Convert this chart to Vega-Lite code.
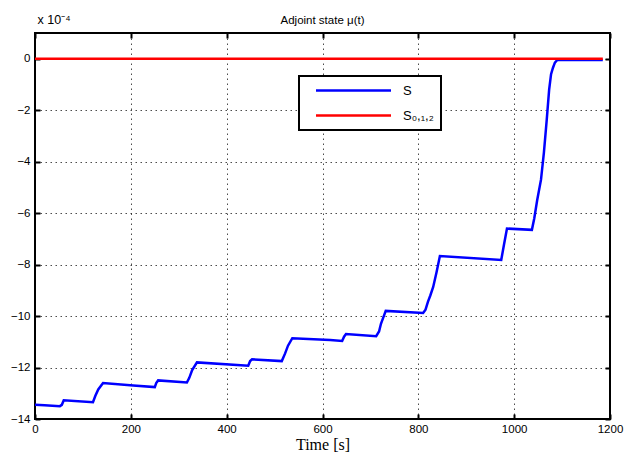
{
  "$schema": "https://vega.github.io/schema/vega-lite/v6.json",
  "autosize": {"type": "none"},
  "padding": {"left": 35, "top": 33, "right": 22, "bottom": 37},
  "width": 575,
  "height": 386,
  "background": "white",
  "title": {"text": "Adjoint state μ(t)", "font": "Liberation Sans", "fontSize": 11.5, "fontWeight": "normal", "color": "black", "offset": -13, "anchor": "middle"},
  "config": {
    "view": {"stroke": "black", "strokeWidth": 2},
    "axis": {"labelFont": "Liberation Sans", "labelFontSize": 11.5, "labelColor": "black", "domain": false, "tickColor": "black", "tickWidth": 2, "labelFlush": false}
  },
  "data": {"values": [
    {"t": 0, "v": -13.45, "s": "S"},
    {"t": 20, "v": -13.47, "s": "S"},
    {"t": 52, "v": -13.5, "s": "S"},
    {"t": 56, "v": -13.45, "s": "S"},
    {"t": 60, "v": -13.27, "s": "S"},
    {"t": 121, "v": -13.35, "s": "S"},
    {"t": 126, "v": -13.1, "s": "S"},
    {"t": 132, "v": -12.85, "s": "S"},
    {"t": 142, "v": -12.6, "s": "S"},
    {"t": 205, "v": -12.7, "s": "S"},
    {"t": 250, "v": -12.76, "s": "S"},
    {"t": 253, "v": -12.6, "s": "S"},
    {"t": 257, "v": -12.5, "s": "S"},
    {"t": 317, "v": -12.58, "s": "S"},
    {"t": 322, "v": -12.4, "s": "S"},
    {"t": 328, "v": -12.1, "s": "S"},
    {"t": 338, "v": -11.8, "s": "S"},
    {"t": 445, "v": -11.93, "s": "S"},
    {"t": 449, "v": -11.75, "s": "S"},
    {"t": 453, "v": -11.68, "s": "S"},
    {"t": 515, "v": -11.75, "s": "S"},
    {"t": 522, "v": -11.45, "s": "S"},
    {"t": 528, "v": -11.15, "s": "S"},
    {"t": 537, "v": -10.86, "s": "S"},
    {"t": 616, "v": -10.93, "s": "S"},
    {"t": 641, "v": -10.97, "s": "S"},
    {"t": 645, "v": -10.8, "s": "S"},
    {"t": 649, "v": -10.7, "s": "S"},
    {"t": 712, "v": -10.78, "s": "S"},
    {"t": 718, "v": -10.6, "s": "S"},
    {"t": 722, "v": -10.3, "s": "S"},
    {"t": 726, "v": -10.1, "s": "S"},
    {"t": 732, "v": -9.8, "s": "S"},
    {"t": 810, "v": -9.88, "s": "S"},
    {"t": 815, "v": -9.75, "s": "S"},
    {"t": 820, "v": -9.45, "s": "S"},
    {"t": 825, "v": -9.2, "s": "S"},
    {"t": 831, "v": -8.87, "s": "S"},
    {"t": 838, "v": -8.3, "s": "S"},
    {"t": 845, "v": -7.67, "s": "S"},
    {"t": 973, "v": -7.82, "s": "S"},
    {"t": 979, "v": -7.2, "s": "S"},
    {"t": 985, "v": -6.6, "s": "S"},
    {"t": 1037, "v": -6.65, "s": "S"},
    {"t": 1042, "v": -6.2, "s": "S"},
    {"t": 1048, "v": -5.5, "s": "S"},
    {"t": 1056, "v": -4.7, "s": "S"},
    {"t": 1062, "v": -3.66, "s": "S"},
    {"t": 1068, "v": -2.37, "s": "S"},
    {"t": 1073, "v": -1.2, "s": "S"},
    {"t": 1077, "v": -0.6, "s": "S"},
    {"t": 1081, "v": -0.35, "s": "S"},
    {"t": 1085, "v": -0.15, "s": "S"},
    {"t": 1090, "v": -0.05, "s": "S"},
    {"t": 1185, "v": -0.05, "s": "S"},
    {"t": 0, "v": 0, "s": "S012"},
    {"t": 600, "v": 0, "s": "S012"},
    {"t": 1185, "v": 0, "s": "S012"}
  ]},
  "encoding": {
    "x": {"field": "t", "type": "quantitative", "scale": {"domain": [0, 1200], "nice": false, "zero": false}},
    "y": {"field": "v", "type": "quantitative", "scale": {"domain": [-14, 1], "nice": false, "zero": false}}
  },
  "layer": [
    {
      "mark": {"type": "line", "strokeWidth": 2.5, "interpolate": "linear"},
      "encoding": {
        "x": {"field": "t", "type": "quantitative", "axis": {"orient": "bottom", "values": [0, 200, 400, 600, 800, 1000, 1200], "format": "d", "title": "Time [s]", "titleFont": "Liberation Serif", "titleFontSize": 16, "titleFontWeight": "normal", "titleColor": "black", "titlePadding": 2, "tickSize": -5, "labelPadding": 9, "grid": true, "gridColor": "black", "gridDash": [1.5, 3.5], "gridOpacity": 0.7, "gridWidth": 1}},
        "y": {"field": "v", "type": "quantitative", "axis": {"orient": "left", "values": [-14, -12, -10, -8, -6, -4, -2, 0], "title": "x 10⁻⁴", "titleAngle": 0, "titleAlign": "left", "titleBaseline": "bottom", "titleX": 2, "titleY": -7, "titleFont": "Liberation Sans", "titleFontSize": 12.5, "titleFontWeight": "normal", "titleColor": "black", "tickSize": -5, "labelPadding": 10, "grid": true, "gridColor": "black", "gridDash": [1.5, 3.5], "gridOpacity": 0.7, "gridWidth": 1}},
        "color": {"field": "s", "type": "nominal", "scale": {"domain": ["S", "S012"], "range": ["#0000ff", "#ff0000"]},
          "legend": {"orient": "none", "legendX": 264, "legendY": 43, "title": null, "symbolType": "M-6.25,0H6.25", "symbolSize": 144, "symbolStrokeWidth": 2.5, "symbolOffset": 40, "labelOffset": 42, "labelFont": "Liberation Sans", "labelFontSize": 13, "labelColor": "black", "padding": 7, "rowPadding": 10, "fillColor": "white", "strokeColor": "black",
            "encode": {"legend": {"update": {"strokeWidth": {"value": 2}}}},
            "labelExpr": "datum.label == 'S012' ? 'S₀,₁,₂\u00a0\u00a0\u00a0\u00a0\u00a0\u00a0\u00a0\u00a0' : 'S'"}}
      }
    },
    {
      "mark": {"type": "line", "opacity": 0},
      "encoding": {
        "x": {"field": "t", "type": "quantitative", "axis": {"orient": "top", "values": [0, 200, 400, 600, 800, 1000, 1200], "labels": false, "title": null, "grid": false, "tickSize": -5}},
        "y": {"field": "v", "type": "quantitative", "axis": {"orient": "right", "values": [-14, -12, -10, -8, -6, -4, -2, 0], "labels": false, "title": null, "grid": false, "tickSize": -5}}
      }
    }
  ],
  "resolve": {"axis": {"x": "independent", "y": "independent"}}
}
